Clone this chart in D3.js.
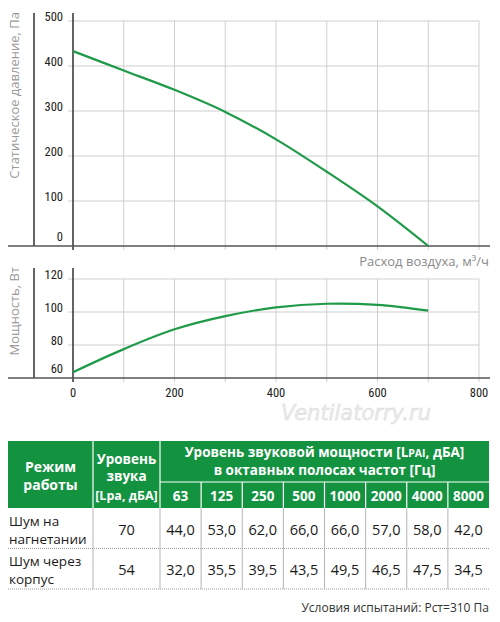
<!DOCTYPE html>
<html><head><meta charset="utf-8">
<script src="https://cdn.jsdelivr.net/npm/d3@7/dist/d3.min.js"></script>
<style>
html,body{margin:0;padding:0;background:#fff;}
svg{display:block;}
</style></head>
<body>
<script>
// ---- data ----
const flow = [0, 100, 200, 300, 400, 500, 600, 700];
const pressure = [433, 390, 347, 298, 237, 165, 88, 0];
const power = [63.5, 77.5, 89.5, 97.5, 102.8, 105, 104.3, 100.8];
const pressureTicks = [0, 100, 200, 300, 400, 500];
const powerTicks = [60, 80, 100, 120];
const flowGrid = [0, 100, 200, 300, 400, 500, 600, 700, 800];
const flowLabels = [0, 200, 400, 600, 800];
const freqs = ["63", "125", "250", "500", "1000", "2000", "4000", "8000"];
const modes = [["Шум на", "нагнетании"], ["Шум через", "корпус"]];
const totalLevel = [70, 54];
const bandLevels = [
  [44.0, 53.0, 62.0, 66.0, 66.0, 57.0, 58.0, 42.0],
  [32.0, 35.5, 39.5, 43.5, 49.5, 46.5, 47.5, 34.5]
];

// ---- setup ----
const W = 500, H = 622;
const svg = d3.select("body").append("svg").attr("width", W).attr("height", H);
const green = "#13923f", curveGreen = "#1f9a48", gridC = "#cfcfcf";
const tickFont = "'Roboto Condensed','Liberation Sans Narrow','DejaVu Sans Condensed',Roboto,sans-serif";
const txtFont = "'Open Sans',sans-serif";

const x = d3.scaleLinear().domain([0, 800]).range([73, 479]);
const yP = d3.scaleLinear().domain([0, 500]).range([246, 21]);
const yW = d3.scaleLinear().domain([60, 120]).range([378, 279]);

function panel(y, ticks, data, topY, title) {
  const g = svg.append("g");
  const y0 = y.range()[0], y1 = y.range()[1];
  g.selectAll(".hg").data(ticks.slice(1)).join("line")
    .attr("x1", 68).attr("x2", x(800)).attr("y1", d => y(d)).attr("y2", d => y(d))
    .attr("stroke", gridC).attr("stroke-width", 1);
  g.selectAll(".vg").data(flowGrid.slice(1)).join("line")
    .attr("x1", d => x(d)).attr("x2", d => x(d)).attr("y1", y1).attr("y2", y0 + 4)
    .attr("stroke", gridC).attr("stroke-width", 1);
  g.append("line").attr("x1", 34).attr("x2", 34).attr("y1", topY).attr("y2", y0)
    .attr("stroke", "#111").attr("stroke-width", 1.3);
  g.append("line").attr("x1", x(0)).attr("x2", x(0)).attr("y1", topY).attr("y2", y0 + 4)
    .attr("stroke", "#111").attr("stroke-width", 1.3);
  g.append("line").attr("x1", 8).attr("x2", 490).attr("y1", y0).attr("y2", y0)
    .attr("stroke", "#555").attr("stroke-width", 1.6);
  g.selectAll(".yl").data(ticks).join("text")
    .attr("x", 63).attr("y", (d, i) => y(d) - (i === 0 ? 5 : 0.5))
    .attr("text-anchor", "end").attr("font-family", tickFont).attr("font-size", 12.5)
    .attr("fill", "#222").text(d => d);
  g.append("text").attr("transform", `translate(19,${topY - 1}) rotate(-90)`)
    .attr("text-anchor", "end").attr("font-family", txtFont).attr("font-size", 13)
    .attr("fill", "#9a9a9a").text(title);
  const line = d3.line().x((d, i) => x(flow[i])).y(d => y(d)).curve(d3.curveCatmullRom.alpha(0.5));
  g.append("path").attr("d", line(data)).attr("fill", "none")
    .attr("stroke", curveGreen).attr("stroke-width", 2.2);
}

panel(yP, pressureTicks, pressure, 13, "Статическое давление, Па");
panel(yW, powerTicks, power, 268, "Мощность, Вт");

svg.append("text").attr("x", 489).attr("y", 266).attr("text-anchor", "end")
  .attr("font-family", txtFont).attr("font-size", 13).attr("fill", "#8a8a8a")
  .text("Расход воздуха, м³/ч");

svg.selectAll(".xl").data(flowLabels).join("text")
  .attr("x", d => x(d)).attr("y", 397).attr("text-anchor", "middle")
  .attr("font-family", tickFont).attr("font-size", 12.5).attr("fill", "#222").text(d => d);

svg.append("text").attr("x", 356).attr("y", 420).attr("text-anchor", "middle")
  .attr("font-family", "'DejaVu Sans',sans-serif").attr("font-style", "italic")
  .attr("font-size", 21).attr("fill", "#ececec").attr("stroke", "#d6d6d6").attr("stroke-width", 0.4)
  .text("Ventilatorry.ru");

// ---- table ----
const tL = 8, tR = 489, c1 = 93, c2 = 160;
const hTop = 441, hMid = 482, hBot = 508, rowH = 40.5;
const fx = d3.scaleBand().domain(freqs).range([c2, tR]);
const t = svg.append("g");
t.append("rect").attr("x", tL).attr("y", hTop).attr("width", tR - tL).attr("height", hBot - hTop).attr("fill", green);
const ws = t.append("g").attr("stroke", "#fff").attr("stroke-width", 1.2);
ws.append("line").attr("x1", c1).attr("x2", c1).attr("y1", hTop).attr("y2", hBot);
ws.append("line").attr("x1", c2).attr("x2", c2).attr("y1", hTop).attr("y2", hBot);
ws.append("line").attr("x1", c2).attr("x2", tR).attr("y1", hMid).attr("y2", hMid);
ws.selectAll(".fs").data(freqs.slice(1)).join("line")
  .attr("x1", d => fx(d)).attr("x2", d => fx(d)).attr("y1", hMid).attr("y2", hBot);

const hb = { "font-family": txtFont, "font-size": 13.5, "font-weight": 700, "fill": "#fff", "text-anchor": "middle" };
function txt(g, xx, yy, s, attrs) {
  const e = g.append("text").attr("x", xx).attr("y", yy).text(s);
  Object.entries(attrs).forEach(([k, v]) => e.attr(k, v));
  return e;
}
function multi(g, xx, yy, lines, dys, attrs) {
  const e = g.append("text").attr("x", xx).attr("y", yy);
  Object.entries(attrs).forEach(([k, v]) => e.attr(k, v));
  lines.forEach((s, i) => e.append("tspan").attr("x", xx).attr("dy", i === 0 ? 0 : dys[i - 1]).text(s));
  return e;
}
multi(t, (tL + c1) / 2, 472, ["Режим", "работы"], [18], Object.assign({}, hb, { "font-size": 14 }));
const lv = multi(t, (c1 + c2) / 2, 463.5, ["Уровень", "звука", "[Lpa, дБА]"], [17.5, 19], hb);
lv.select("tspan:last-child").attr("font-size", 12.5);
const h1 = txt(t, (c2 + tR) / 2, 457, "", hb);
h1.append("tspan").text("Уровень звуковой мощности [L");
h1.append("tspan").attr("font-size", 10.5).text("PAI");
h1.append("tspan").text(", дБА]");
h1.append("tspan").attr("x", (c2 + tR) / 2).attr("dy", 18).text("в октавных полосах частот [Гц]");
freqs.forEach(f => txt(t, fx(f) + fx.bandwidth() / 2, 501, f, hb));

const bodyTop = hBot;
const bt = { "font-family": txtFont, "font-size": 14.5, "fill": "#1a1a1a" };
modes.forEach((m, i) => {
  const ry = bodyTop + i * rowH;
  multi(t, 9, ry + 17.5, m, [18], Object.assign({}, bt, { "font-size": 13.5 }));
  txt(t, (c1 + c2) / 2, ry + 26.5, totalLevel[i], Object.assign({}, bt, { "text-anchor": "middle" }));
  bandLevels[i].forEach((v, j) => {
    txt(t, fx(freqs[j]) + fx.bandwidth() / 2, ry + 26.5, d3.format(".1f")(v).replace(".", ","),
      Object.assign({}, bt, { "text-anchor": "middle" }));
  });
  t.append("line").attr("x1", tL).attr("x2", tR).attr("y1", ry + rowH).attr("y2", ry + rowH)
    .attr("stroke", "#9a9a9a").attr("stroke-width", 1).attr("stroke-dasharray", "1,1");
});
const vx = [c1, c2].concat(freqs.slice(1).map(f => fx(f)));
t.selectAll(".bv").data(vx).join("line")
  .attr("x1", d => d).attr("x2", d => d).attr("y1", bodyTop).attr("y2", bodyTop + rowH * modes.length)
  .attr("stroke", "#b5b5b5").attr("stroke-width", 1);

svg.append("text").attr("x", 489).attr("y", 612).attr("text-anchor", "end")
  .attr("font-family", txtFont).attr("font-size", 12).attr("fill", "#333")
  .text("Условия испытаний: Рст=310 Па");
</script>
</body></html>
